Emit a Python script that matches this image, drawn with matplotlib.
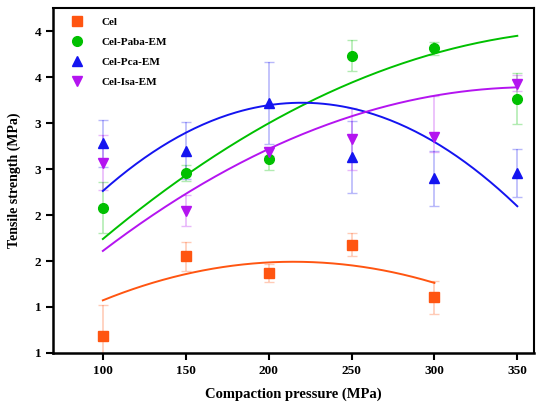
import numpy as np
import matplotlib
matplotlib.use('Agg')
import matplotlib.pyplot as plt
from matplotlib.ticker import FuncFormatter

plt.rcParams['font.family'] = 'Liberation Serif'
plt.rcParams['font.weight'] = 'bold'

# compaction pressure (MPa)
pressure = [100, 150, 200, 250, 300, 350]

# tensile strength (MPa) and std deviations
cel = [1.185, 2.05, 1.87, 2.18, 1.605]
cel_err = [0.34, 0.16, 0.10, 0.13, 0.18]

paba = [2.58, 2.96, 3.115, 4.235, 4.315, 3.77]
paba_err = [0.28, 0.087, 0.12, 0.17, 0.07, 0.28]

pca = [3.28, 3.20, 3.72, 3.13, 2.90, 2.96]
pca_err = [0.255, 0.31, 0.45, 0.39, 0.30, 0.26]

isa = [3.07, 2.55, 3.19, 3.33, 3.35, 3.93]
isa_err_lo = [0.30, 0.17, 0.05, 0.34, 0.16, 0.08]
isa_err_hi = [0.30, 0.17, 0.05, 0.34, 0.45, 0.10]

# quadratic fits, coefficients for (x - 200): [x^2, x, 1]
fit_cel = [-3.18e-5, 0.00095, 1.985]
fit_paba = [-2.5e-5, 0.0101, 3.5]
fit_pca = [-6.67e-5, 0.00267, 3.697]
fit_isa = [-2.65e-5, 0.00845, 3.22]

series = [
    ('Cel', cel, [cel_err, cel_err], fit_cel, 300, '#FF5511', 's', 6.5),
    ('Cel-Paba-EM', paba, [paba_err, paba_err], fit_paba, 350, '#00C000', 'o', 7),
    ('Cel-Pca-EM', pca, [pca_err, pca_err], fit_pca, 350, '#1414F0', '^', 7.5),
    ('Cel-Isa-EM', isa, [isa_err_lo, isa_err_hi], fit_isa, 350, '#B414F0', 'v', 7.5),
]

fig = plt.figure(figsize=(5.42, 4.07), dpi=100)
ax = fig.add_axes([0.098, 0.133, 0.887, 0.847])

for label, vals, err, fit, xmax, color, marker, ms in series:
    x = np.array(pressure[:len(vals)])
    ax.errorbar(x, vals, yerr=err, fmt='none', ecolor=color, alpha=0.3,
                elinewidth=1.2, capsize=3.5, capthick=1.0, zorder=2)
    xf = np.linspace(100, xmax, 200)
    ax.plot(xf, np.polyval(fit, xf - 200), color=color, lw=1.4, zorder=3)
    ax.plot(x, vals, linestyle='none', marker=marker, color=color,
            markersize=ms, label=label, zorder=4)

ax.set_xlim(70, 360)
ax.set_ylim(1, 4.754)
ax.set_xticks([100, 150, 200, 250, 300, 350])
ax.set_yticks([1, 1.5, 2, 2.5, 3, 3.5, 4, 4.5])
ax.yaxis.set_major_formatter(FuncFormatter(lambda v, p: str(int(v))))

ax.set_xlabel('Compaction pressure (MPa)', fontsize=10.5, fontweight='bold',
              labelpad=8)
ax.set_ylabel('Tensile strength (MPa)', fontsize=10, fontweight='bold',
              labelpad=10)
ax.tick_params(axis='both', direction='out', length=5, width=1.5,
               labelsize=9.5, top=False, right=False)

for side in ['left', 'bottom']:
    ax.spines[side].set_linewidth(1.8)
for side in ['top', 'right']:
    ax.spines[side].set_linewidth(1.5)

ax.legend(loc='upper left', frameon=False, fontsize=8, handletextpad=1.4,
          labelspacing=0.9, borderaxespad=0, handlelength=1.5,
          bbox_to_anchor=(0.0235, 0.986))

fig.savefig('out.png', dpi=100)
